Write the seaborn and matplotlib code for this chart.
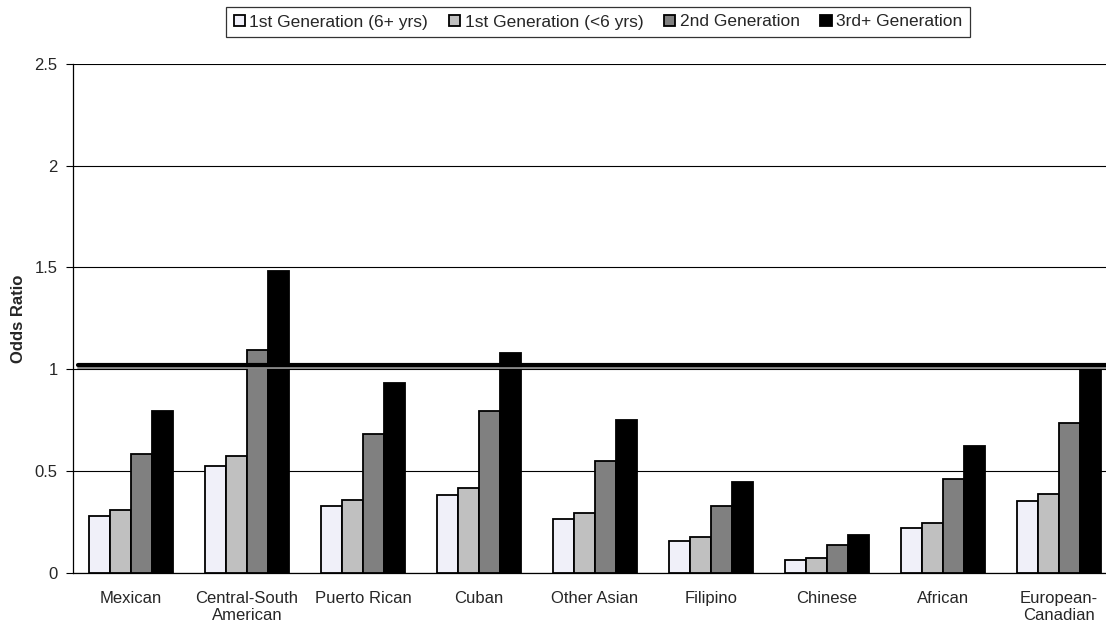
import matplotlib
matplotlib.use("Agg")
import matplotlib.pyplot as plt
import seaborn as sns
import pandas as pd

groups = ["Mexican", "Central-South\nAmerican", "Puerto Rican", "Cuban", "Other Asian",
          "Filipino", "Chinese", "African", "European-\nCanadian"]
generations = ["1st Generation (6+ yrs)", "1st Generation (<6 yrs)",
               "2nd Generation", "3rd+ Generation"]

gen1_long = [0.279, 0.523, 0.327, 0.381, 0.263, 0.158, 0.064, 0.219, 0.352]
gen1_recent = [0.306, 0.575, 0.358, 0.417, 0.291, 0.174, 0.071, 0.242, 0.388]
gen2 = [0.583, 1.093, 0.682, 0.794, 0.549, 0.330, 0.135, 0.459, 0.736]
gen3 = [0.796, 1.485, 0.930, 1.078, 0.748, 0.447, 0.186, 0.623, 1.003]

reference_level = 1.02
y_ticks = [0, 0.5, 1, 1.5, 2, 2.5]
y_tick_labels = ["0", "0.5", "1", "1.5", "2", "2.5"]

series = [gen1_long, gen1_recent, gen2, gen3]
df = pd.DataFrame({
    "group": [g for s in series for g in groups],
    "generation": [gen for gen, s in zip(generations, series) for _ in s],
    "value": [v for s in series for v in s],
})

sns.set_theme(style="white")
plt.rcParams["font.family"] = ["Liberation Sans", "DejaVu Sans"]

colors = ["#EEEEFB", "#C0C0C0", "#808080", "#000000"]

fig = plt.figure(figsize=(11.06, 6.29), dpi=100)
ax = fig.add_axes([73 / 1106, (629 - 572.7) / 629, 1044 / 1106, (572.7 - 64) / 629])

sns.barplot(data=df, x="group", y="value", hue="generation", order=groups,
            hue_order=generations, palette=colors, edgecolor="black",
            linewidth=1.3, width=0.725, ax=ax, zorder=3, legend=True)

ax.set_xlim(-0.5, len(groups) - 0.5)
ax.set_ylim(0, 2.5)
ax.set_yticks(y_ticks)
ax.set_yticklabels(y_tick_labels, fontsize=12)
ax.yaxis.grid(True, color="black", linewidth=0.8, zorder=0)
ax.set_axisbelow(True)

# category boundaries carry the x tick marks; labels sit in the middle
ax.set_xticks(range(len(groups)))
ax.set_xticklabels(groups, fontsize=12, linespacing=1.2)
ax.set_xticks([i - 0.5 for i in range(len(groups) + 1)], minor=True)
ax.tick_params(axis="x", which="major", length=0, pad=13)
ax.tick_params(axis="x", which="minor", length=5, width=0.8, color="black", direction="out")
ax.tick_params(axis="y", which="major", length=5, width=0.8, color="black", direction="out",
               left=True, pad=6)

for side in ["top", "right"]:
    ax.spines[side].set_visible(False)
for side in ["left", "bottom"]:
    ax.spines[side].set_color("black")
    ax.spines[side].set_linewidth(0.9)

ax.set_xlabel("")
ax.set_ylabel("Odds Ratio", fontsize=12, fontweight="bold")
ax.yaxis.set_label_coords(-47 / 1044, 0.5)

# reference line at odds ratio of one
ax.axhline(reference_level - 0.012, xmin=0.005, xmax=1, color="#8a8a8a", linewidth=1.4, zorder=5)
ax.axhline(reference_level, xmin=0.005, xmax=1, color="black", linewidth=3.0, zorder=6)

handles, labels = ax.get_legend_handles_labels()
ax.legend_.remove()
leg = fig.legend(handles, labels, loc="center", bbox_to_anchor=(598 / 1106, 1 - 22 / 629),
                 ncol=4, fontsize=12.5, frameon=True, fancybox=False, edgecolor="black",
                 handlelength=0.65, handleheight=0.65, handletextpad=0.25,
                 columnspacing=1.2, borderpad=0.45)
leg.get_frame().set_linewidth(0.9)

fig.savefig("out.png", dpi=100)
